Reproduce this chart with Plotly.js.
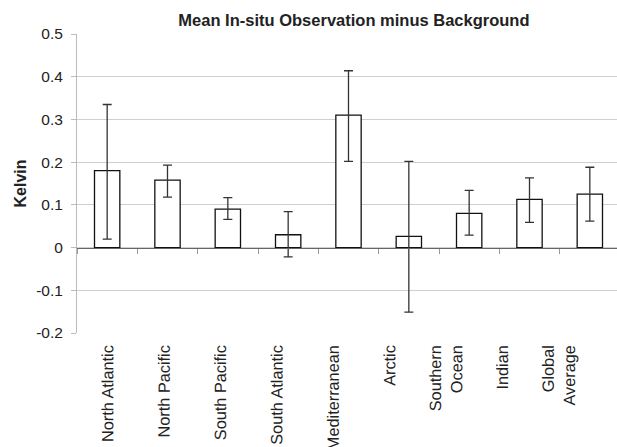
<!DOCTYPE html>
<html>
<head>
<meta charset="utf-8">
<script src="https://cdn.plot.ly/plotly-3.0.1.min.js"></script>
<style>
html,body{margin:0;padding:0;overflow:hidden;background:#fff;}
#chart{width:620px;height:447px;}
</style>
</head>
<body>
<div id="chart"></div>
<script>
const categories = ["North Atlantic","North Pacific","South Pacific","South Atlantic","Mediterranean","Arctic","Southern<br>Ocean","Indian","Global<br>Average"];
const meanValues = [0.18, 0.158, 0.09, 0.03, 0.31, 0.026, 0.08, 0.113, 0.125];
const errPlus  = [0.155, 0.035, 0.027, 0.054, 0.104, 0.176, 0.054, 0.05, 0.063];
const errMinus = [0.16, 0.04, 0.024, 0.052, 0.108, 0.177, 0.051, 0.054, 0.063];
const yTicks = [-0.2, -0.1, 0, 0.1, 0.2, 0.3, 0.4, 0.5];
const yTickText = ["-0.2","-0.1","0","0.1","0.2","0.3","0.4","0.5"];

const font = "Liberation Sans, Arial, sans-serif";

const bars = {
  type: "bar",
  x: categories,
  y: meanValues,
  xaxis: "x2",
  width: 0.42,
  marker: {color: "#ffffff", line: {color: "#111111", width: 1.3}},
  error_y: {type: "data", symmetric: false, array: errPlus, arrayminus: errMinus,
            color: "#333333", thickness: 1.3, width: 4.5},
  hoverinfo: "skip",
  showlegend: false
};
// carries the category labels (the reference's labels sit on a slightly tighter spacing than the bars)
const labelHelper = {
  type: "scatter", mode: "markers",
  x: categories, y: meanValues,
  xaxis: "x",
  marker: {opacity: 0},
  hoverinfo: "skip", showlegend: false
};

const layout = {
  width: 620, height: 447,
  margin: {l: 77, r: 0, t: 34, b: 114, pad: 0},
  paper_bgcolor: "#ffffff", plot_bgcolor: "#ffffff",
  title: {text: "Mean In-situ Observation minus Background",
          font: {family: font, size: 16.5, color: "#222", weight: "bold"},
          x: 0.51, xanchor: "center", xref: "paper", y: 0.955, yanchor: "middle"},
  xaxis: {type: "category", range: [-0.5, 9.13], showline: false, ticks: "",
          showgrid: false, zeroline: false, tickangle: -89.9,
          ticklabelstandoff: 3,
          tickfont: {family: font, size: 16.3, color: "#222"}, automargin: false},
  xaxis2: {type: "category", overlaying: "x", anchor: "free", position: 0.2857,
           range: [-0.5, 8.5], showline: true, linecolor: "#666", linewidth: 1.2,
           ticks: "outside", tickson: "boundaries", ticklen: 5, tickcolor: "#999", tickwidth: 1,
           showticklabels: false, showgrid: false, zeroline: false},
  yaxis: {range: [-0.2, 0.5], tickvals: yTicks, ticktext: yTickText,
          showgrid: true, gridcolor: "#cfcfcf", gridwidth: 1, zeroline: false,
          showline: true, linecolor: "#bbbbbb", linewidth: 1,
          ticks: "outside", ticklen: 5, tickcolor: "#bbbbbb",
          ticklabelstandoff: 5,
          tickfont: {family: font, size: 15.5, color: "#222"},
          title: {text: "Kelvin", font: {family: font, size: 16, color: "#222", weight: "bold"}, standoff: 5},
          automargin: false},
  bargap: 0.58
};

Plotly.newPlot("chart", [bars, labelHelper], layout, {displayModeBar: false, staticPlot: true});
</script>
</body>
</html>
